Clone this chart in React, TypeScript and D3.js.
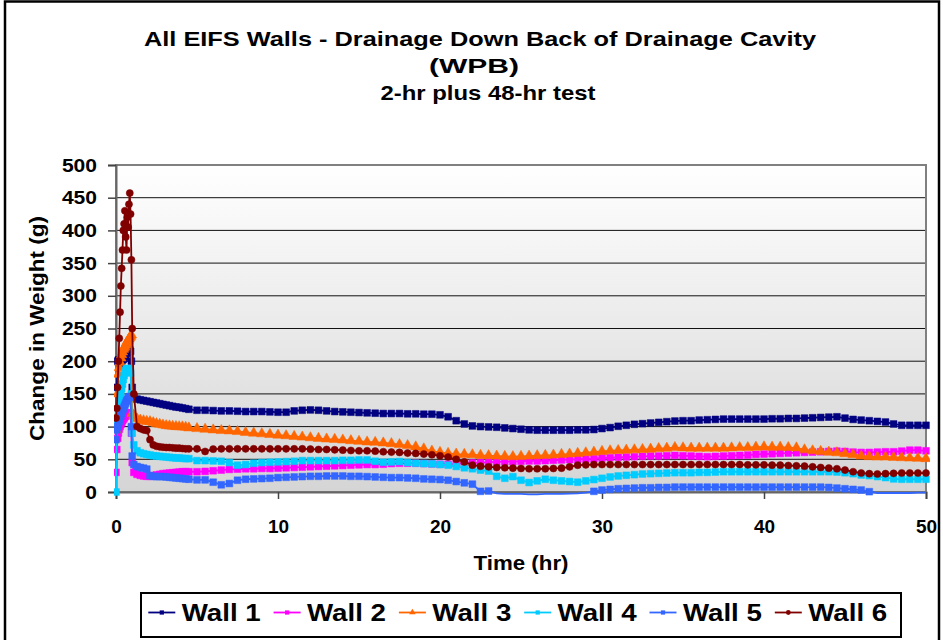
import { useEffect, useRef } from 'react';
import * as d3 from 'd3';

const titleLines = [
  'All EIFS Walls - Drainage Down Back of Drainage Cavity',
  '(WPB)',
  '2-hr plus 48-hr test',
];
const xLabel = 'Time (hr)';
const yLabel = 'Change in Weight (g)';
const seriesNames = ['Wall 1', 'Wall 2', 'Wall 3', 'Wall 4', 'Wall 5', 'Wall 6'];
const xTicks = [0, 10, 20, 30, 40, 50];
const yTicks = [0, 50, 100, 150, 200, 250, 300, 350, 400, 450, 500];

// reading times (hr): every 3 min while wetting, every 12 min right after, then half-hourly
const timesWetting = d3.range(0, 1.001, 0.05);
const timesDraining = d3.range(1.1, 4.51, 0.2);
const timesLong = d3.range(5, 50.001, 0.5);
const times = [...timesWetting, ...timesDraining, ...timesLong];

const wall1 = [
  100, 160, 200, 202, 198, 195, 197, 200, 202, 203, 205, 207, 210, 212, 213, 215, 216, 217, 215, 200, 160,
  145, 142, 141, 140, 139, 138, 137, 136, 135, 134, 133, 132, 131, 130, 129.5, 128.5, 127.5, 126.5,
  125, 125, 124.5, 124, 124, 123.5, 123, 123, 123, 122.5,
  122, 122, 124, 125, 125.5, 125, 124, 123, 122.5, 122,
  121.5, 121, 120.5, 120, 120, 120, 119.5, 119.5, 119, 119,
  118, 115, 109, 104, 101, 100, 99.5, 99, 98, 97,
  96, 95, 94.5, 94.5, 94.5, 94.5, 94.5, 95, 95, 95.5,
  97, 98.5, 100.5, 102, 103.5, 104.5, 105.5, 106.5, 107.5, 108.5,
  109, 109, 110, 110.5, 111, 111.5, 111.5, 111.5, 111.5, 111.5,
  111.5, 112, 112, 112.5, 112.5, 113, 113.5, 114, 114.5, 115,
  113, 111, 110, 109, 108, 107, 104, 102, 102, 102,
  102,
];

const wall2 = [
  30, 65, 82, 90, 96, 100, 103, 106, 109, 111, 113, 115, 116, 118, 119, 120, 121, 121, 120, 90, 45,
  30, 27, 25.5, 24.5, 24, 24, 25, 26, 27, 28, 28.5, 29, 29.5, 30, 30.5, 31, 31, 31,
  31, 31.5, 32.5, 33.5, 34.5, 35, 35.5, 35.5, 36, 36,
  36.5, 37, 37.5, 38, 38.5, 39, 39.5, 40, 40.5, 41,
  41.5, 42, 42, 42.5, 43.5, 44, 44, 44, 43.5, 43,
  42.5, 42.5, 43, 44, 44.5, 45, 45.5, 46, 46.5, 46.5,
  47, 47.5, 47.5, 48, 48.5, 49, 49.5, 50, 50.5, 51,
  52, 52.5, 53, 53.5, 54, 54.5, 55, 55, 55.5, 56,
  55.5, 55, 54.5, 54, 54.5, 55, 55.5, 56, 56.5, 57.5,
  58, 58.5, 59, 59.5, 60, 60.5, 61, 61.5, 62, 62.5,
  62, 61, 60.5, 60.5, 61, 61.5, 61.5, 62.5, 64, 64,
  63,
];

const wall3 = [
  95, 115, 150, 180, 190, 198, 205, 210, 214, 218, 220, 222, 225, 228, 230, 232, 234, 236, 238, 240, 120,
  116, 112, 110, 109, 108, 107.5, 106, 104.5, 103.5, 102.5, 101.5, 101, 100.5, 100, 99.8, 99.6, 99, 98,
  97, 96, 95, 94, 93.5, 92.5, 91, 90, 89, 88,
  87, 86, 85, 84, 83, 82, 81, 80.5, 79.5, 78.5,
  77.5, 76.5, 76, 75, 74, 72.5, 71, 69, 66, 62.5,
  60.5, 59, 58, 57.5, 57, 56, 55.5, 55, 54.5, 54,
  54.5, 55, 55.5, 56, 56.5, 57.5, 58, 59, 60, 61,
  62, 63, 63.5, 64, 64.5, 65, 65.5, 66.5, 67, 68,
  67.5, 67, 67, 67, 67, 67, 67.5, 68, 68, 68.5,
  69, 68.5, 68.5, 68, 67.5, 64.5, 63, 62, 61, 60,
  58.5, 57, 55, 54, 53.5, 53.5, 53, 52.5, 52, 51.5,
  51,
];

const wall4 = [
  0, 100, 108, 118, 128, 138, 148, 158, 165, 172, 178, 183, 186, 188, 189, 188, 186, 184, 182, 150, 90,
  72, 63, 60, 58.5, 57.5, 56.5, 55.5, 55, 54.5, 54, 53.5, 53, 52.5, 52, 52, 51.5, 51, 51,
  48, 48, 47.5, 47, 45, 41, 42, 44, 45, 45.5,
  46, 46.5, 47, 48, 48, 48, 48, 48, 48.5, 48.5,
  49, 49, 47, 45.5, 46, 46.5, 45, 44, 43.5, 43,
  42, 41, 39, 37, 35.5, 33.5, 32, 24, 21, 23.5,
  18, 14.5, 17, 19.5, 18, 17, 16, 15, 17, 19,
  21, 23, 24.5, 25.5, 26.5, 27.5, 28, 28.5, 29, 29.5,
  29.5, 29.5, 30, 30, 30.5, 31, 31, 31, 31, 31,
  31, 31, 31, 31, 31, 31, 31, 31, 31, 30.5,
  29.5, 28, 26, 25, 23.5, 22, 20, 19.5, 19.5, 19.5,
  19.5,
];

const wall5 = [
  80, 95, 100, 104, 108, 112, 116, 120, 124, 127, 130, 133, 136, 139, 141, 143, 145, 146, 145, 100, 55,
  42, 39, 37.5, 36.5, 35, 25, 24, 23.5, 23.5, 23.5, 23, 22.5, 22, 21.5, 21, 20.5, 20, 19.5,
  18.5, 18.5, 15, 11, 13, 18, 19.5, 20, 20.5, 21,
  22, 22.5, 23, 23.5, 24, 24, 24.5, 24.5, 24.5, 24,
  24, 23.5, 23, 22.5, 22, 22, 21.5, 21, 20, 19.5,
  19, 18, 16, 14, 12, 1, 1.5, -2, -3, -3,
  -3, -3.5, -3.5, -3, -3, -3, -2.5, -2, -1, 1,
  3, 4, 5, 5.5, 6, 6.5, 6.5, 7, 7, 7.5,
  7.5, 7.5, 7.5, 7.5, 7.5, 7.5, 7.5, 7.5, 7.5, 7.5,
  7.5, 7.5, 7.5, 7.5, 7.5, 7.5, 7.5, 7.5, 7, 6,
  5, 4, 3, 0.5, -1.5, -1.5, -1.5, -1.5, -1.5, -1,
  -1,
];

const wall6 = [
  113, 128, 160, 200, 235, 275, 315, 342, 370, 400, 410, 430, 390, 370, 420, 405, 440, 457, 425, 355, 250,
  150, 100, 97, 95, 94, 80, 72, 70, 69, 68.5, 68, 68, 67.5, 67, 67, 66.5, 66, 66,
  66, 62, 65.5, 66, 66, 66, 66, 66, 66, 66,
  66, 66, 66, 66, 65.5, 65, 65, 64.5, 64, 63.5,
  63, 63, 62.5, 61.5, 61, 60.5, 59.5, 59, 58, 57,
  55.5, 53.5, 50, 46, 41, 39.5, 38.5, 37.5, 37, 36.5,
  36, 35.5, 35.5, 35.5, 36, 36.5, 38.5, 41, 41.5, 42,
  42, 42, 42, 42, 42, 42, 42, 42, 42, 42,
  42, 42, 42, 42, 42, 42, 42, 42, 41.5, 41.5,
  41.5, 41, 41, 40.5, 40, 39.5, 38.5, 37.5, 36.5, 35.5,
  33.5, 31, 29, 28, 27.5, 28, 28.5, 29, 29, 29,
  29,
];

const seriesValues = [wall1, wall2, wall3, wall4, wall5, wall6];
const seriesColors = ['#000080', '#FF00FF', '#FF6600', '#00CCFF', '#3366FF', '#800000'];
const seriesShapes = [d3.symbolSquare, d3.symbolSquare, d3.symbolTriangle, d3.symbolSquare, d3.symbolSquare, d3.symbolCircle];

function App() {
  const svgRef = useRef<SVGSVGElement>(null);

  useEffect(() => {
    const W = 943;
    const H = 640;
    const svg = d3.select(svgRef.current).attr('width', W).attr('height', H);
    svg.selectAll('*').remove();

    const font = '"Liberation Sans", Arial, Helvetica, sans-serif';
    const left = 116, right = 926, top = 165, bottom = 492;

    const x = d3.scaleLinear().domain([0, 50]).range([left, right]);
    const y = d3.scaleLinear().domain([0, 500]).range([bottom, top]);

    svg.append('rect').attr('width', W).attr('height', H).attr('fill', '#fff');
    // outer chart frame
    svg.append('rect')
      .attr('x', 5).attr('y', 1.5).attr('width', 934).attr('height', 650)
      .attr('fill', 'none').attr('stroke', '#000').attr('stroke-width', 2.5);

    const defs = svg.append('defs');
    const grad = defs.append('linearGradient').attr('id', 'plotBg')
      .attr('x1', 0).attr('y1', 0).attr('x2', 0).attr('y2', 1);
    grad.append('stop').attr('offset', '0%').attr('stop-color', '#ffffff');
    grad.append('stop').attr('offset', '100%').attr('stop-color', '#d5d5d5');
    defs.append('clipPath').attr('id', 'plotClip').append('rect')
      .attr('x', left - 2).attr('y', top).attr('width', right - left + 6).attr('height', bottom - top + 5);

    svg.append('rect')
      .attr('x', left).attr('y', top).attr('width', right - left).attr('height', bottom - top)
      .attr('fill', 'url(#plotBg)');

    svg.append('g').selectAll('line')
      .data(yTicks.filter(v => v > 0 && v < 500))
      .join('line')
      .attr('x1', left).attr('x2', right)
      .attr('y1', d => y(d)).attr('y2', d => y(d))
      .attr('stroke', '#111').attr('stroke-width', 1);

    svg.append('rect')
      .attr('x', left).attr('y', top).attr('width', right - left).attr('height', bottom - top)
      .attr('fill', 'none').attr('stroke', '#808080').attr('stroke-width', 2);

    const yAxis = svg.append('g')
      .attr('transform', `translate(${left},0)`)
      .call(d3.axisLeft(y).tickValues(yTicks).tickSize(8).tickPadding(11));
    yAxis.select('.domain').attr('stroke', '#666').attr('stroke-width', 2);
    yAxis.selectAll('.tick line').attr('stroke', '#444').attr('stroke-width', 1.5);
    yAxis.selectAll('text')
      .attr('font-family', font).attr('font-size', 19).attr('font-weight', 'bold').attr('fill', '#000')
      .attr('textLength', (d: any) => String(d).length * 11.7).attr('lengthAdjust', 'spacingAndGlyphs');

    const xAxis = svg.append('g')
      .attr('transform', `translate(0,${bottom})`)
      .call(d3.axisBottom(x).tickValues(xTicks).tickSize(7).tickPadding(21));
    xAxis.select('.domain').attr('stroke', '#666').attr('stroke-width', 2);
    xAxis.selectAll('.tick line').attr('stroke', '#444').attr('stroke-width', 1.5);
    xAxis.selectAll('text')
      .attr('font-family', font).attr('font-size', 19).attr('font-weight', 'bold').attr('fill', '#000');

    // series
    const plot = svg.append('g').attr('clip-path', 'url(#plotClip)');
    seriesValues.forEach((vals, si) => {
      const n = Math.min(vals.length, times.length);
      const pts = d3.range(n).map(i => ({ t: times[i], v: vals[i] }));
      const line = d3.line<{ t: number; v: number }>().x(d => x(d.t)).y(d => y(d.v));
      plot.append('path')
        .datum(pts)
        .attr('fill', 'none')
        .attr('stroke', seriesColors[si])
        .attr('stroke-width', 1.8)
        .attr('d', line);
      const shape = seriesShapes[si];
      const size = shape === d3.symbolCircle ? 40 : shape === d3.symbolTriangle ? 48 : 46;
      const sym = d3.symbol().type(shape).size(size);
      plot.append('g').selectAll('path')
        .data(pts.filter(d => d.v >= 0))
        .join('path')
        .attr('transform', d => `translate(${x(d.t)},${y(d.v)})`)
        .attr('d', sym)
        .attr('fill', seriesColors[si])
        .attr('stroke', seriesColors[si])
        .attr('stroke-width', 0.5);
    });

    // titles
    const titleCenters = [480, 474, 488];
    const titleBaselines = [46, 73, 100];
    const titleWidths = [672, 90, 215];
    titleLines.forEach((s, i) => {
      svg.append('text')
        .attr('x', titleCenters[i]).attr('y', titleBaselines[i])
        .attr('text-anchor', 'middle')
        .attr('font-family', font).attr('font-size', 20.5).attr('font-weight', 'bold')
        .attr('textLength', titleWidths[i]).attr('lengthAdjust', 'spacingAndGlyphs')
        .text(s);
    });

    svg.append('text')
      .attr('x', (left + right) / 2).attr('y', 570)
      .attr('text-anchor', 'middle')
      .attr('font-family', font).attr('font-size', 21).attr('font-weight', 'bold')
      .attr('textLength', 95).attr('lengthAdjust', 'spacingAndGlyphs')
      .text(xLabel);

    svg.append('text')
      .attr('transform', `translate(44,${(top + bottom) / 2}) rotate(-90)`)
      .attr('text-anchor', 'middle')
      .attr('font-family', font).attr('font-size', 20.5).attr('font-weight', 'bold')
      .attr('textLength', 225).attr('lengthAdjust', 'spacingAndGlyphs')
      .text(yLabel);

    // legend
    svg.append('rect')
      .attr('x', 141).attr('y', 593).attr('width', 760).attr('height', 44)
      .attr('fill', '#fff').attr('stroke', '#000').attr('stroke-width', 2);
    const legend = svg.append('g');
    seriesNames.forEach((name, i) => {
      const x0 = 148.3 + i * 125.3;
      const g = legend.append('g').attr('transform', `translate(${x0},612.5)`);
      g.append('line').attr('x1', 0).attr('x2', 27).attr('stroke', seriesColors[i]).attr('stroke-width', 1.8);
      g.append('path')
        .attr('transform', 'translate(13.5,0)')
        .attr('d', d3.symbol().type(seriesShapes[i]).size(18))
        .attr('fill', seriesColors[i]);
      g.append('text')
        .attr('x', 33.4).attr('y', 8.5)
        .attr('font-family', font).attr('font-size', 24).attr('font-weight', 'bold')
        .attr('textLength', 79).attr('lengthAdjust', 'spacingAndGlyphs')
        .text(name);
    });
  }, []);

  return (
    <div style={{ position: 'absolute', left: 0, top: 0 }}>
      <svg ref={svgRef}></svg>
    </div>
  );
}

export default App;
